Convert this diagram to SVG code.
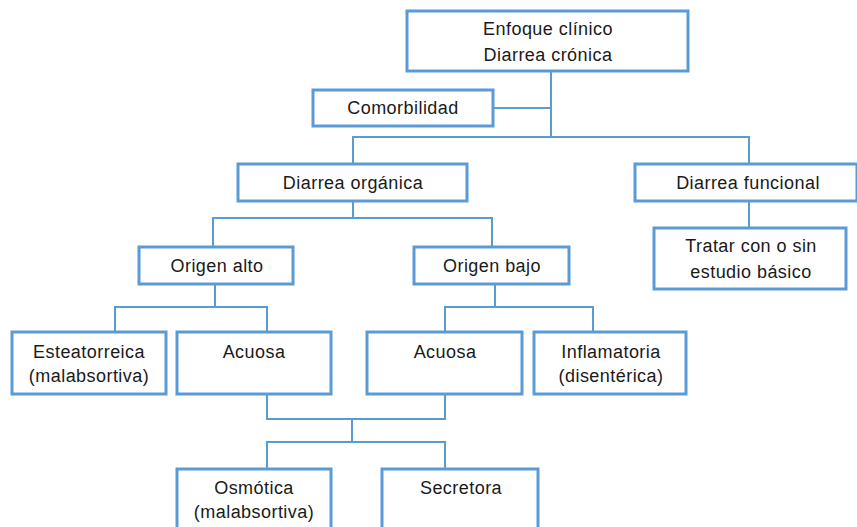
<svg xmlns="http://www.w3.org/2000/svg" width="857" height="527" viewBox="0 0 857 527">
<style>
.box{fill:#fff;stroke:#5b9bd5;stroke-width:3}
.c{fill:none;stroke:#5b9bd5;stroke-width:2}
text{font-family:"Liberation Sans",Arial,sans-serif;font-size:18px;letter-spacing:0.45px;fill:#1a1a1a;text-anchor:middle}
</style>
<rect width="857" height="527" fill="#fff"/>
<g id="connectors">
<path class="c" d="M551 71V137M493 108H551M353 164V137H749V164"/>
<path class="c" d="M749 201V228"/>
<path class="c" d="M353 201V218M213 247V218H492V247"/>
<path class="c" d="M215 284V307M115 332V307H267V332"/>
<path class="c" d="M495 284V307M445 332V307H593V332"/>
<path class="c" d="M267 394V419H445V394M352 419V442M267 469V442H445V469"/>
</g>
<g id="n-enfoque"><rect class="box" x="407" y="11" width="281" height="60"/><text x="548" y="35">Enfoque clínico</text><text x="548" y="61">Diarrea crónica</text></g>
<g id="n-comorbilidad"><rect class="box" x="313" y="90" width="180" height="36"/><text x="403" y="114">Comorbilidad</text></g>
<g id="n-organica"><rect class="box" x="238" y="164" width="229" height="37"/><text x="353" y="189">Diarrea orgánica</text></g>
<g id="n-funcional"><rect class="box" x="635" y="164" width="222" height="37"/><text x="748" y="189">Diarrea funcional</text></g>
<g id="n-tratar"><rect class="box" x="654" y="228" width="192" height="61"/><text x="751" y="252">Tratar con o sin</text><text x="751" y="278">estudio básico</text></g>
<g id="n-alto"><rect class="box" x="139" y="247" width="154" height="37"/><text x="217" y="272">Origen alto</text></g>
<g id="n-bajo"><rect class="box" x="414" y="247" width="155" height="37"/><text x="492" y="272">Origen bajo</text></g>
<g id="n-esteatorreica"><rect class="box" x="12" y="332" width="154" height="62"/><text x="89" y="358">Esteatorreica</text><text x="89" y="382">(malabsortiva)</text></g>
<g id="n-acuosa1"><rect class="box" x="177" y="332" width="154" height="62"/><text x="254" y="358">Acuosa</text></g>
<g id="n-acuosa2"><rect class="box" x="367" y="332" width="155" height="62"/><text x="445" y="358">Acuosa</text></g>
<g id="n-inflamatoria"><rect class="box" x="534" y="332" width="152" height="62"/><text x="611" y="358">Inflamatoria</text><text x="611" y="382">(disentérica)</text></g>
<g id="n-osmotica"><rect class="box" x="177" y="469" width="154" height="64"/><text x="254" y="494">Osmótica</text><text x="254" y="518">(malabsortiva)</text></g>
<g id="n-secretora"><rect class="box" x="382" y="469" width="156" height="64"/><text x="461" y="494">Secretora</text></g>
</svg>
